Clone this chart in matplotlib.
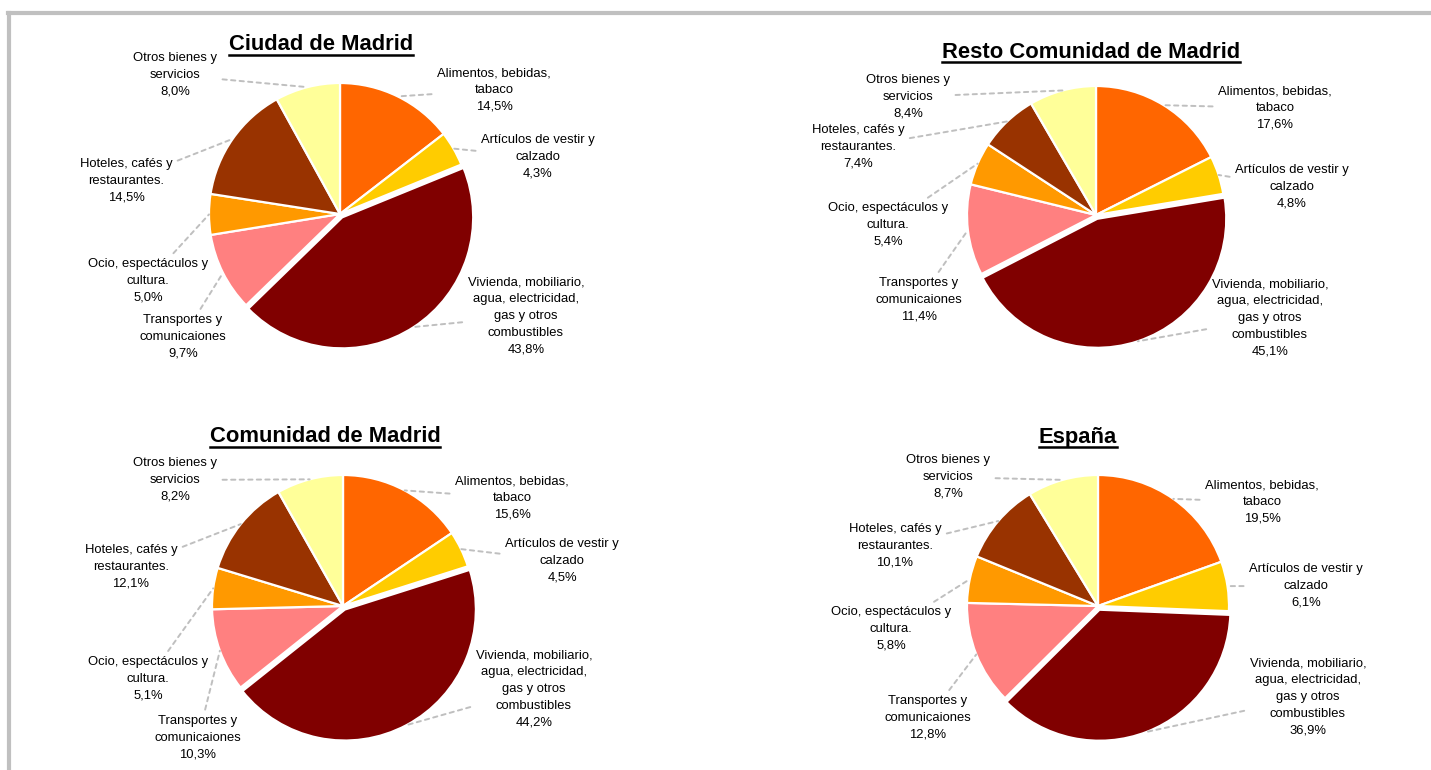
import numpy as np
import matplotlib.pyplot as plt
from matplotlib.lines import Line2D

plt.rcParams['font.family'] = ['Liberation Sans', 'DejaVu Sans']

# categories (clockwise from 12 o'clock)
categories = [
    "Alimentos, bebidas,\ntabaco",
    "Artículos de vestir y\ncalzado",
    "Vivienda, mobiliario,\nagua, electricidad,\ngas y otros\ncombustibles",
    "Transportes y\ncomunicaiones",
    "Ocio, espectáculos y\ncultura.",
    "Hoteles, cafés y\nrestaurantes.",
    "Otros bienes y\nservicios",
]
colors = ["#FF6600", "#FFCC00", "#800000", "#FF8080", "#FF9900", "#993300", "#FFFF99"]

titles = ["Ciudad de Madrid", "Resto Comunidad de Madrid", "Comunidad de Madrid", "España"]
ciudad = [14.5, 4.3, 43.8, 9.7, 5.0, 14.5, 8.0]
resto = [17.6, 4.8, 45.1, 11.4, 5.4, 7.4, 8.4]
comunidad = [15.6, 4.5, 44.2, 10.3, 5.1, 12.1, 8.2]
espana = [19.5, 6.1, 36.9, 12.8, 5.8, 10.1, 8.7]
series = [ciudad, resto, comunidad, espana]

# layout in pixels (y measured from top)
W, H = 1431, 770
pie_centers = [(340, 214), (1096, 215), (343, 606), (1098, 606)]
pie_radius = [131, 129, 131, 131]
title_pos = [(321, 45), (1091, 52), (325, 437), (1078, 437)]
label_pos = [
    [(494, 90), (538, 157), (526, 316), (183, 337), (148, 281), (126, 181), (175, 75)],
    [(1275, 108), (1292, 187), (1270, 318), (919, 300), (888, 225), (858, 147), (908, 97)],
    [(512, 498), (562, 561), (534, 689), (198, 738), (148, 679), (131, 567), (175, 480)],
    [(1262, 502), (1306, 586), (1308, 697), (928, 718), (891, 629), (895, 546), (948, 477)],
]

fig = plt.figure(figsize=(W / 100, H / 100), dpi=100)
ax = fig.add_axes([0, 0, 1, 1])

# grey frame (top and left)
ax.add_line(Line2D([8, W], [H - 13, H - 13], color="#C0C0C0", lw=3))
ax.add_line(Line2D([8.5, 8.5], [0, H - 13], color="#C0C0C0", lw=3))

explode = [0, 0, 4, 0, 0, 0, 0]  # pixels
title_texts = []
for i, vals in enumerate(series):
    cx, cy = pie_centers[i]
    wedges, _ = ax.pie(vals, colors=colors, startangle=90, counterclock=False,
                       explode=explode, center=(cx, H - cy), radius=pie_radius[i],
                       wedgeprops=dict(edgecolor="white", linewidth=1.6),
                       frame=True)
    for j, w in enumerate(wedges):
        ang = np.deg2rad((w.theta1 + w.theta2) / 2)
        px = w.center[0] + w.r * np.cos(ang)
        py = w.center[1] + w.r * np.sin(ang)
        lx, ly = label_pos[i][j]
        txt = categories[j] + "\n" + f"{vals[j]:.1f}".replace(".", ",") + "%"
        ax.annotate(txt, xy=(px, py), xytext=(lx, H - ly), ha="center", va="center",
                    fontsize=9.4, linespacing=1.55, color="black",
                    arrowprops=dict(arrowstyle="-", color="#BFBFBF", lw=1.4,
                                    linestyle=(0, (2.2, 2.2)), shrinkA=2, shrinkB=0))
    tx, ty = title_pos[i]
    t = ax.text(tx, H - ty, titles[i], ha="center", va="center", fontsize=15.8,
                fontweight="bold")
    title_texts.append(t)

ax.set_xlim(0, W)
ax.set_ylim(0, H)
ax.set_aspect('auto')
ax.axis('off')

# underline titles
fig.canvas.draw()
r = fig.canvas.get_renderer()
inv = ax.transData.inverted()
for t in title_texts:
    bb = t.get_window_extent(r)
    x0, y0 = inv.transform((bb.x0, bb.y0))
    x1, _ = inv.transform((bb.x1, bb.y0))
    ax.add_line(Line2D([x0, x1], [y0 + 1, y0 + 1], color="black", lw=1.8))

fig.savefig("out.png", dpi=100)
